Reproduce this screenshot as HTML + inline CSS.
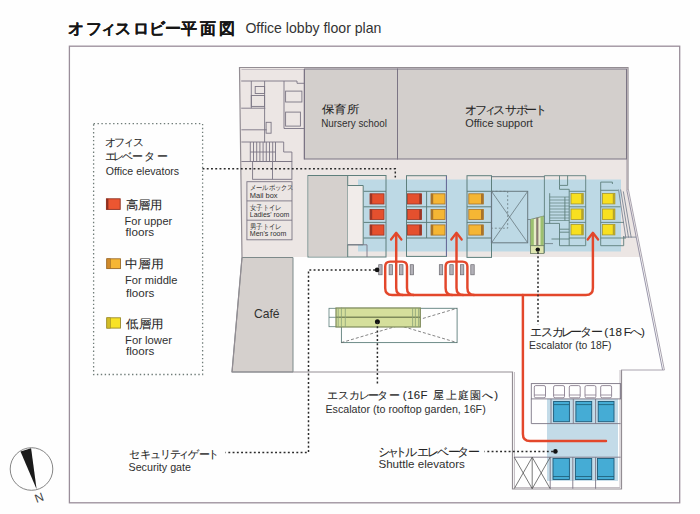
<!DOCTYPE html>
<html><head><meta charset="utf-8">
<style>
html,body{margin:0;padding:0;background:#fefefe;width:700px;height:514px;overflow:hidden}
svg{display:block;font-family:"Liberation Sans",sans-serif}
.en{fill:#303030}
.el rect{stroke-width:0.8}
.red{fill:#e5502e;stroke:#9b3626}
.org{fill:#f5b634;stroke:#a9742a}
.yel{fill:#f8e020;stroke:#a9982a}
.jps{fill:#333}
.jp{fill:#252525;stroke:#252525;stroke-width:0.08px}
</style></head><body>
<svg width="700" height="514" viewBox="0 0 700 514">
<!-- title -->
<text id="t1" x="76 93.6 108 123.2 141.4 157.3 173.2 189.2 207.8 227.4" y="34.2" font-size="16" font-weight="bold" fill="#151515" stroke="#151515" stroke-width="0.12" text-anchor="middle">オフィスロビー平面図</text>
<text id="t2" x="245.4" y="33.4" font-size="14.5" fill="#333" textLength="136.0" lengthAdjust="spacingAndGlyphs">Office lobby floor plan</text>

<!-- outer frame -->
<rect x="69.4" y="46.2" width="610.3" height="456.6" fill="none" stroke="#9a8e9a" stroke-width="1.3"/>

<!-- building top area fill -->
<path d="M239.5 67.5 H628 V190 L641 257 H242 Z" fill="#ece6e4"/>
<!-- cafe -->
<path d="M242 257.5 H293 V372 H232 Z" fill="#d5d0cd" stroke="#7d8a8a" stroke-width="1"/>

<!-- building outline -->
<path d="M628 190 V67.5 H239.5 L242 257.5 L232 372 H512.5 V489 H621.5 V370" fill="none" stroke="#938d93" stroke-width="1.2"/>
<path d="M626.8 190 L662.6 370" fill="none" stroke="#8d8aa0" stroke-width="0.9"/><path d="M628.4 189.5 L664.4 370 H621" fill="none" stroke="#a09aa6" stroke-width="0.9"/>
<path d="M241.5 69.5 H626.5 V190 M514.5 372 V487.5 H620 V370" fill="none" stroke="#b8b0b8" stroke-width="0.8"/>

<!-- nursery / office support -->
<rect x="304.5" y="69" width="93" height="90" fill="#d3cfcc" stroke="#7b7584" stroke-width="1"/>
<rect x="397.5" y="69" width="229" height="90" fill="#d3cfcc" stroke="#7b7584" stroke-width="1"/>

<!-- blue band -->
<rect x="358" y="179.5" width="263" height="72" fill="#bdd9e5"/>

<!-- block 1 -->
<rect x="308" y="175.5" width="78" height="81.5" fill="none" stroke="#5e7f7c" stroke-width="1"/>
<rect x="308.5" y="176" width="39" height="80.5" fill="#d5d0cd"/>
<line x1="347.7" y1="175.5" x2="347.7" y2="257" stroke="#5e7f7c"/>
<path d="M347.7 185.5 H363.2 V244.8 H347.7" fill="#f1ecea" stroke="#5e7f7c"/>
<path d="M347.7 244.8 H367 V257" fill="none" stroke="#7b7584" stroke-width="0.9"/>
<path d="M363.6 191.3 H386 M363.6 206.8 H386 M363.6 222.4 H386 M363.6 238 H386" stroke="#5e7f7c" fill="none"/>
<g class="el red"><rect x="370" y="193.8" width="14" height="10.2"/><rect x="370" y="209.4" width="14" height="10.2"/><rect x="370" y="224.9" width="14" height="10.2"/></g>
<g fill="#9b3626"><rect x="370" y="193.8" width="2.2" height="10.2"/><rect x="370" y="209.4" width="2.2" height="10.2"/><rect x="370" y="224.9" width="2.2" height="10.2"/></g>

<!-- block 2 -->
<rect x="406.5" y="175.7" width="40" height="80.7" fill="none" stroke="#5e7f7c"/>
<path d="M406.5 191.3 H446.5 M406.5 206.8 H446.5 M406.5 222.4 H446.5 M406.5 238 H446.5 M426.6 191.3 V238" stroke="#5e7f7c" fill="none"/>
<line x1="446.4" y1="176" x2="446.4" y2="256" stroke="#6b69a0" stroke-width="0.9"/>
<g class="el red"><rect x="407.5" y="193.8" width="14" height="10.2"/><rect x="407.5" y="209.4" width="14" height="10.2"/><rect x="407.5" y="224.9" width="14" height="10.2"/></g>
<g fill="#9b3626"><rect x="419.3" y="193.8" width="2.2" height="10.2"/><rect x="419.3" y="209.4" width="2.2" height="10.2"/><rect x="419.3" y="224.9" width="2.2" height="10.2"/></g>
<g class="el org"><rect x="431" y="193.8" width="14" height="10.2"/><rect x="431" y="209.4" width="14" height="10.2"/><rect x="431" y="224.9" width="14" height="10.2"/></g>
<g fill="#a9742a"><rect x="431" y="193.8" width="2.2" height="10.2"/><rect x="431" y="209.4" width="2.2" height="10.2"/><rect x="431" y="224.9" width="2.2" height="10.2"/></g>

<!-- block 3 -->
<rect x="467" y="175.7" width="24.5" height="81.7" fill="none" stroke="#5e7f7c"/>
<path d="M467 191.3 H491.5 M467 206.8 H491.5 M467 222.4 H491.5 M467 238 H491.5" stroke="#5e7f7c" fill="none"/>
<line x1="491.5" y1="191" x2="491.5" y2="243" stroke="#6b69a0" stroke-width="1.2"/>
<g class="el org"><rect x="468.8" y="193.8" width="14.5" height="10.2"/><rect x="468.8" y="209.4" width="14.5" height="10.2"/><rect x="468.8" y="224.9" width="14.5" height="10.2"/></g>
<g fill="#a9742a"><rect x="481" y="193.8" width="2.3" height="10.2"/><rect x="481" y="209.4" width="2.3" height="10.2"/><rect x="481" y="224.9" width="2.3" height="10.2"/></g>

<!-- X shaft -->
<path d="M491.5 176.7 H544.6" stroke="#6a7a80" fill="none"/>
<rect x="491.5" y="191.3" width="36.2" height="51.5" fill="none" stroke="#6a7a80"/>
<path d="M491.5 191.3 L527.7 242.8 M527.7 191.3 L491.5 242.8" stroke="#6a7a80" fill="none" stroke-width="0.8"/>
<rect x="491.5" y="191.3" width="16.2" height="36.9" fill="none" stroke="#6a7a80" stroke-dasharray="2,2" stroke-width="0.8"/>

<!-- green escalator (small) -->
<path d="M530.4 219.5 L544 216 V245.7 H530.4 Z" fill="#e6ecc8" stroke="#6a7a60" stroke-width="0.8"/>
<path d="M532.3 219 V245.7 M542 216.5 V245.7" stroke="#9cc070" stroke-width="3"/>
<path d="M537.3 217.8 V245.7" stroke="#8a7a72" stroke-width="2.2"/>
<rect x="530.4" y="245.7" width="13.6" height="7.8" fill="#dfe6b0" stroke="#6a7a60" stroke-width="0.8"/>
<circle cx="537.8" cy="249.6" r="2.2" fill="#111"/>
<path d="M527.7 219.5 H530.4 M544 243.6 H553" stroke="#6a7a80" stroke-width="0.8"/>

<!-- block 4 -->
<g stroke="#5e7f7c" fill="none" stroke-width="0.9">
<path d="M544.4 253 V175.7 H585.7 V245.7 H559.5 V223.4 H544.4"/>
<path d="M559.5 175.7 V185.4 H567.6 V175.7"/>
<path d="M559.5 185.4 V189.3 H569.2 V245.7"/>
<path d="M569.2 191.3 H585.7 M569.2 206.8 H585.7 M569.2 222.4 H585.7 M569.2 238 H585.7"/>
<path d="M549.7 193.2 V223.4 M564.9 197 V220.5"/>
<path d="M549.7 197 H569.2 M549.7 200 H569.2 M549.7 203 H569.2 M549.7 206 H569.2 M549.7 209 H569.2 M549.7 212 H569.2 M549.7 215 H569.2 M549.7 218 H569.2 M549.7 220.5 H569.2" stroke-width="0.7"/>
<path d="M559.5 229.2 H569.2 M559.5 232.2 H569.2 M551.5 239 H569.2"/>
</g>
<g class="el yel"><rect x="571" y="193.5" width="12.2" height="10.4"/><rect x="571" y="209" width="12.2" height="10.4"/><rect x="571" y="224.5" width="12.2" height="10.4"/></g>
<g fill="#b5a32a"><rect x="581.2" y="193.5" width="2" height="10.4"/><rect x="581.2" y="209" width="2" height="10.4"/><rect x="581.2" y="224.5" width="2" height="10.4"/></g>

<!-- block 5 -->
<g stroke="#5e7f7c" fill="none" stroke-width="0.9">
<path d="M612.4 184 V182.1 H600.7 V245.7 H623.7 V236"/>
<path d="M600.7 190.3 H618 M600.7 206.8 H620.5 M600.7 222.4 H624 M600.7 238 H626"/>
</g>
<g class="el yel"><rect x="602.6" y="193.5" width="12.3" height="10.4"/><rect x="602.6" y="209" width="12.3" height="10.4"/><rect x="602.6" y="224.5" width="12.3" height="10.4"/></g>
<g fill="#b5a32a"><rect x="612.8" y="193.5" width="2" height="10.4"/><rect x="612.8" y="209" width="2" height="10.4"/><rect x="612.8" y="224.5" width="2" height="10.4"/></g>
<path d="M618.5 189.5 L625.8 237.5 M620.6 189.5 L628.5 237.5 M623.3 191.4 L631.2 237.5 M623.3 237.1 H636" stroke="#6f7a8a" fill="none" stroke-width="0.8"/>

<!-- service core -->
<g stroke="#7b7584" fill="none" stroke-width="0.9">
<path d="M241.2 81 H297 V83.3 H304.6"/>
<path d="M251.3 81 V108.2 M264.6 81 V142.5 M241.2 108.2 H265.3"/>
<rect x="255.2" y="86.5" width="9.4" height="7"/>
<rect x="251.3" y="95.5" width="13.3" height="10.9"/>
<rect x="266.1" y="122.3" width="5" height="10.9"/>
<path d="M284 81 V128.5 H304.6"/>
<rect x="285.6" y="91.1" width="16.3" height="10.9"/>
<rect x="285.6" y="112.1" width="14.8" height="14"/>
<path d="M241.4 129.8 H266.6 M241.4 142 H283.7 V152 H291.9 V161.5 M241.4 161.5 H291.9"/>
<path d="M250.3 142 V161.5 M253.5 142 V161.5 M256.7 142 V161.5 M259.9 142 V161.5 M263.1 142 V161.5 M266.3 142 V161.5 M269.5 142 V161.5 M272.7 142 V161.5 M275.5 142 V161.5 M250.3 152 H275.5"/>
<rect x="252.6" y="161.5" width="39.3" height="17.8"/>
<path d="M272.5 161.5 V179.3"/>
<rect x="246.9" y="181.7" width="45.1" height="58.1"/>
<path d="M246.9 200.9 H292 M246.9 220.2 H292"/>
<path d="M304.2 69 V159.5"/>
</g>

<!-- service labels -->
<g>
<text id="t3" font-size="6.6" x="249.7" y="189.9" class="jps" textLength="44.0" lengthAdjust="spacingAndGlyphs">メールボックス</text>
<text id="t4" font-size="8" x="249.8" y="198.4" class="en" textLength="27.8" lengthAdjust="spacingAndGlyphs">Mail box</text>
<text id="t5" font-size="6.6" x="249.7" y="210.0" class="jps" textLength="32.1" lengthAdjust="spacingAndGlyphs">女子トイレ</text>
<text id="t6" font-size="8" x="249.8" y="216.5" class="en" textLength="39.5" lengthAdjust="spacingAndGlyphs">Ladies' room</text>
<text id="t7" font-size="6.6" x="249.7" y="228.8" class="jps" textLength="32.1" lengthAdjust="spacingAndGlyphs">男子トイレ</text>
<text id="t8" font-size="8" x="249.8" y="236.4" class="en" textLength="36.6" lengthAdjust="spacingAndGlyphs">Men's room</text>
</g>

<!-- room labels -->
<text id="t9" x="321.9" y="112.8" font-size="11.01" class="jp" textLength="37.5" lengthAdjust="spacingAndGlyphs">保育所</text>
<text id="t10" x="321.2" y="127.2" font-size="11" class="en" textLength="65.7" lengthAdjust="spacingAndGlyphs">Nursery school</text>
<text id="t11" x="470.6 481.2 490.2 499.2 511.4 522.4 531 541" y="113.7" font-size="12" class="jp" text-anchor="middle">オフィスサポート</text>
<text id="t12" x="465.2" y="126.6" font-size="11" class="en" textLength="67.7" lengthAdjust="spacingAndGlyphs">Office support</text>
<text id="t13" x="254.0" y="318.1" font-size="13" class="en" textLength="25.6" lengthAdjust="spacingAndGlyphs">Café</text>

<!-- gates -->
<g fill="#b3b1b8" stroke="#6c6a70" stroke-width="0.7">
<rect x="378.7" y="264.7" width="3.4" height="10.1"/>
<rect x="389.1" y="264.7" width="3.4" height="10.1"/>
<rect x="399.6" y="264.7" width="3.4" height="10.1"/>
<rect x="410.2" y="264.7" width="3.4" height="10.1"/>
<rect x="439.3" y="264.7" width="3.4" height="10.1"/>
<rect x="449.8" y="264.7" width="3.4" height="10.1"/>
<rect x="460.4" y="264.7" width="3.4" height="10.1"/>
<rect x="470.8" y="264.7" width="3.4" height="10.1"/>
</g>
<circle cx="377.1" cy="269.9" r="2.3" fill="#111"/>

<!-- lobby escalator -->
<rect x="341.4" y="308.3" width="115.7" height="34.3" fill="none" stroke="#5e7f7c" stroke-width="0.9"/>
<path d="M341.4 342.6 L457.1 308.3 M341.4 308.3 L457.1 342.6" stroke="#666" stroke-dasharray="3,2" stroke-width="0.8"/>
<rect x="329" y="308.3" width="12.4" height="18.4" fill="#fff" stroke="#5e7f7c" stroke-width="0.8"/>
<line x1="329" y1="317.3" x2="341.4" y2="317.3" stroke="#5e7f7c" stroke-width="0.8"/>
<rect x="336" y="308" width="84.3" height="19" fill="#d5df9c" stroke="#7e8a5a" stroke-width="1.2"/>
<line x1="336" y1="317.3" x2="420.3" y2="317.3" stroke="#7e8a5a" stroke-width="1.4"/>
<path d="M338.2 308 V327 M341.4 308 V327 M345.3 308 V327 M412.6 308 V327 M415.4 308 V327 M418.6 308 V327" stroke="#8aa27a" stroke-width="0.8"/>
<circle cx="377.4" cy="321.8" r="2.5" fill="#111"/>

<!-- shuttle elevators -->
<rect x="547" y="398.9" width="71" height="82" fill="#c3dbe8"/>
<rect x="531.3" y="383.6" width="89.3" height="15.3" fill="none" stroke="#7b7584" stroke-width="0.9"/>
<g fill="#fff" stroke="#8a7f90" stroke-width="0.9">
<rect x="534.3" y="385.6" width="11.2" height="12.2" rx="1.5"/>
<rect x="553.6" y="385.6" width="10.9" height="12.2" rx="1.5"/>
<rect x="569.3" y="385.6" width="10.9" height="12.2" rx="1.5"/>
<rect x="585" y="385.6" width="10.9" height="12.2" rx="1.5"/>
<rect x="600.7" y="385.6" width="10.9" height="12.2" rx="1.5"/>
</g>
<path d="M534.3 395 H545.5 M553.6 395 H564.5 M569.3 395 H580.2 M585 395 H595.9 M600.7 395 H611.6" stroke="#8a7f90" stroke-width="0.8"/>
<path d="M531.3 398.9 V423.6 H620.6 M551 398.9 V423.6 M573.3 398.9 V423.6 M595.6 398.9 V423.6 M514 457.2 H620.6 M550.2 457.2 V488.7 M572.8 457.2 V488.7 M595.6 457.2 V488.7" stroke="#7b7584" fill="none" stroke-width="0.9"/>
<g fill="#45acd5" stroke="#1d5a78" stroke-width="0.9">
<rect x="553.6" y="401.5" width="15.8" height="20.2"/>
<rect x="575.9" y="401.5" width="15.8" height="20.2"/>
<rect x="598.2" y="401.5" width="15.8" height="20.2"/>
<rect x="553" y="458.5" width="16.4" height="21"/>
<rect x="575.4" y="458.5" width="16.3" height="21"/>
<rect x="597.5" y="458.5" width="16.5" height="21"/>
</g>
<path d="M553.6 404.6 H569.4 M575.9 404.6 H591.7 M598.2 404.6 H614 M553 476.5 H569.4 M575.4 476.5 H591.7 M597.5 476.5 H614" stroke="#1d5a72" stroke-width="0.8"/>
<path d="M514.2 457.2 L532.2 488.7 M532.2 457.2 L514.2 488.7 M532.2 457.2 L550.2 488.7 M550.2 457.2 L532.2 488.7 M532.2 457.2 V488.7" stroke="#555" fill="none" stroke-width="0.8"/>
<circle cx="555.4" cy="451.4" r="2.3" fill="#111"/>

<!-- red routes -->
<g fill="none" stroke="#e3472b" stroke-width="2.45" stroke-linejoin="round">
<path d="M385.2 288 V266.6 Q385.2 261.6 390.2 261.6 H402 Q407 261.6 407 266.6 V288 Q407 295 414 295"/>
<path d="M385.2 288 Q385.2 295 392.2 295 H585.9 Q592.9 295 592.9 288 V234"/>
<path d="M396.2 234 V288 Q396.2 295 403.2 295"/>
<path d="M445.6 288 V266.6 Q445.6 261.6 450.6 261.6 H462.4 Q467.4 261.6 467.4 266.6 V288 Q467.4 295 474.4 295"/>
<path d="M445.6 288 Q445.6 295 452.6 295"/>
<path d="M456.5 234 V288 Q456.5 295 463.5 295"/>
<path d="M522.9 295 V434 Q522.9 441 530 441 H606" stroke-linecap="round"/>
</g>
<g fill="none" stroke="#e3472b" stroke-width="2.3" stroke-linecap="round" stroke-linejoin="round">
<path d="M391 239.5 L396.2 232.8 L401.4 239.5"/>
<path d="M451.3 239.5 L456.5 232.8 L461.7 239.5"/>
<path d="M587.7 239.5 L592.9 232.8 L598.1 239.5"/>
</g>

<!-- dotted leaders -->
<g fill="none" stroke="#2a2a2a" stroke-width="1.5" stroke-dasharray="1.9,2.35">
<path d="M202.5 168.8 H395.3 V177.6"/>
<path d="M375 270 H308.5 V452.5 H225.5"/>
<path d="M377.4 322 V385.7"/>
<path d="M538 252 V324.4"/>
<path d="M553 451.4 H484.5"/>
</g>

<!-- legend -->
<rect x="93.6" y="123.7" width="109" height="250.8" fill="none" stroke="#6f7c78" stroke-width="1.3" stroke-dasharray="1.4,2.5"/>
<text id="t14" x="110.5 119.6 128.7 138.6" y="146.2" font-size="11.2" class="jp" text-anchor="middle">オフィス</text>
<text id="t15" x="110.2 118.2 127.6 137.8 149.9 162.2" y="159.9" font-size="11.2" class="jp" text-anchor="middle">エレベーター</text>
<text id="t16" x="105.8" y="174.6" font-size="11" class="en" textLength="73.3" lengthAdjust="spacingAndGlyphs">Office elevators</text>
<rect x="106.4" y="198.8" width="13.8" height="10.6" fill="#ec5631" stroke="#8f3020" stroke-width="0.9"/><rect x="106.4" y="198.8" width="2" height="10.6" fill="#8f3020"/>
<text id="t17" x="125.5" y="208.6" font-size="11.78" class="jp" textLength="37.0" lengthAdjust="spacingAndGlyphs">高層用</text>
<text id="t18" x="124.6" y="225.0" font-size="11" class="en" textLength="47.6" lengthAdjust="spacingAndGlyphs">For upper</text>
<text id="t19" x="125.6" y="236.1" font-size="11" class="en" textLength="28.6" lengthAdjust="spacingAndGlyphs">floors</text>
<rect x="106.8" y="258.8" width="13.7" height="9.8" fill="#f6b634" stroke="#9a6a2a" stroke-width="0.9"/><rect x="106.8" y="258.8" width="3.6" height="9.8" fill="#d08a2a" stroke="#9a6a2a" stroke-width="0.6"/>
<text id="t20" x="125.0" y="268.1" font-size="11.67" class="jp" textLength="38.5" lengthAdjust="spacingAndGlyphs">中層用</text>
<text id="t21" x="125.0" y="284.3" font-size="11" class="en" textLength="52.5" lengthAdjust="spacingAndGlyphs">For middle</text>
<text id="t22" x="126.0" y="296.5" font-size="11" class="en" textLength="28.4" lengthAdjust="spacingAndGlyphs">floors</text>
<rect x="106.8" y="317.8" width="13.7" height="10.3" fill="#f8e226" stroke="#9a8a2a" stroke-width="0.9"/><rect x="106.8" y="317.8" width="3.6" height="10.3" fill="#d2bc26" stroke="#9a8a2a" stroke-width="0.6"/>
<text id="t23" x="126.0" y="327.5" font-size="11.88" class="jp" textLength="37.5" lengthAdjust="spacingAndGlyphs">低層用</text>
<text id="t24" x="125.0" y="343.7" font-size="11" class="en" textLength="47.0" lengthAdjust="spacingAndGlyphs">For lower</text>
<text id="t25" x="126.0" y="354.9" font-size="11" class="en" textLength="28.4" lengthAdjust="spacingAndGlyphs">floors</text>

<!-- callout labels -->
<text id="t26" x="535.8 546.9 557.6 567.4 576.4 586.2 597.4 606.3 612.0 618.8 627.3 636.2 642.9" y="336.3" font-size="11.6" class="jp" text-anchor="middle">エスカレーター(18Fへ)</text>
<text id="t27" x="529.1" y="348.6" font-size="11" class="en" textLength="82.4" lengthAdjust="spacingAndGlyphs">Escalator (to 18F)</text>
<text id="t28" x="332.1 343.3 354.3 364.7 373.2 382.5 394.0 404.6 410.4 416.8 423.9 429.0 438.2 451.0 463.6 475.7 487.1 496.1" y="399.3" font-size="11.4" class="jp" text-anchor="middle">エスカレーター(16F 屋上庭園へ)</text>
<text id="t29" x="325.5" y="413.0" font-size="11" class="en" textLength="160.2" lengthAdjust="spacingAndGlyphs">Escalator (to rooftop garden, 16F)</text>
<text id="t30" x="384.0 393.0 400.8 411.2 422.5 433.0 443.4 453.6 463.0 474.0" y="455.6" font-size="12.1" class="jp" text-anchor="middle">シャトルエレベーター</text>
<text id="t31" x="378.4" y="468.4" font-size="11" class="en" textLength="86.4" lengthAdjust="spacingAndGlyphs">Shuttle elevators</text>
<text id="t32" x="134.9 145.3 155.1 165.1 175.5 183.8 193.8 204 213.2" y="457.6" font-size="11.2" class="jp" text-anchor="middle">セキュリティゲート</text>
<text id="t33" x="128.5" y="470.8" font-size="11" class="en" textLength="62.5" lengthAdjust="spacingAndGlyphs">Security gate</text>

<!-- compass -->
<circle cx="31.5" cy="469" r="21.3" fill="none" stroke="#777" stroke-width="0.9"/>
<path d="M20.5 451.5 L31.1 448.3 L36.6 489.2 Z" fill="#1a1a1a"/>
<text id="t34" x="0" y="0" fill="#444" transform="translate(36.5 503) rotate(-20)" font-size="12">N</text>
</svg>
</body></html>
